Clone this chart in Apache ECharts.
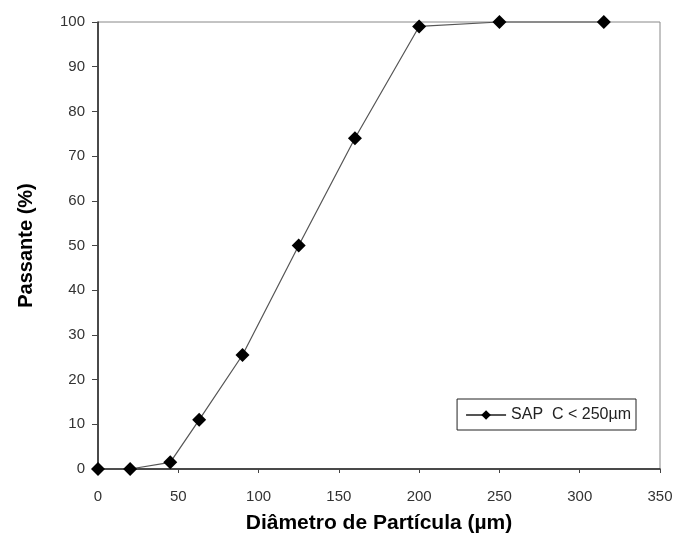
<!DOCTYPE html>
<html><head><meta charset="utf-8">
<script src="https://cdn.jsdelivr.net/npm/echarts@6/dist/echarts.min.js"></script>
<style>html,body{margin:0;padding:0;background:#fff}#c{width:678px;height:534px}</style>
</head><body><div id="c"></div>
<script>
const diameters = [0, 20, 45, 63, 90, 125, 160, 200, 250, 315];
const passing = [0, 0, 1.5, 11, 25.5, 50, 74, 99, 100, 100];
const seriesName = 'SAP  C < 250µm';
const xTitle = 'Diâmetro de Partícula (µm)';
const yTitle = 'Passante (%)';

const chart = echarts.init(document.getElementById('c'), null, {renderer: 'canvas'});
chart.setOption({
  animation: false,
  backgroundColor: '#fff',
  grid: {left: 98, right: 18, top: 22, bottom: 65, show: true, borderColor: '#888', borderWidth: 1,
         outerBoundsMode: 'none', containLabel: false},
  legend: {
    show: true, right: 42, top: 399, orient: 'horizontal',
    borderColor: '#222', borderWidth: 1, padding: [8, 5, 7, 8],
    backgroundColor: '#fff',
    itemWidth: 40, itemHeight: 12, itemGap: 4,
    textStyle: {fontFamily: 'Liberation Sans, Arial', fontSize: 16, color: '#222'},
    data: [{name: seriesName}]
  },
  xAxis: {
    type: 'value', min: 0, max: 350, interval: 50,
    name: xTitle, nameLocation: 'middle', nameGap: 44,
    nameTextStyle: {fontFamily: 'Liberation Sans, Arial', fontWeight: 'bold', fontSize: 21, color: '#000'},
    axisLine: {show: true, lineStyle: {color: '#222', width: 1.5}},
    axisTick: {show: true, length: 4, lineStyle: {color: '#444'}},
    axisLabel: {fontFamily: 'Liberation Sans, Arial', fontSize: 15, color: '#333', margin: 20},
    splitLine: {show: false}
  },
  yAxis: {
    type: 'value', min: 0, max: 100, interval: 10,
    name: yTitle, nameLocation: 'middle', nameGap: 62, nameRotate: 90,
    nameTextStyle: {fontFamily: 'Liberation Sans, Arial', fontWeight: 'bold', fontSize: 20, color: '#000'},
    axisLine: {show: true, lineStyle: {color: '#222', width: 1.5}},
    axisTick: {show: true, length: 6, lineStyle: {color: '#444'}},
    axisLabel: {fontFamily: 'Liberation Sans, Arial', fontSize: 15, color: '#333', margin: 13},
    splitLine: {show: false}
  },
  series: [{
    name: seriesName, type: 'line',
    data: diameters.map((d, i) => [d, passing[i]]),
    symbol: 'diamond', symbolSize: 14,
    itemStyle: {color: '#000'},
    lineStyle: {color: '#555', width: 1.2},
    clip: false
  }]
});
</script>
</body></html>
